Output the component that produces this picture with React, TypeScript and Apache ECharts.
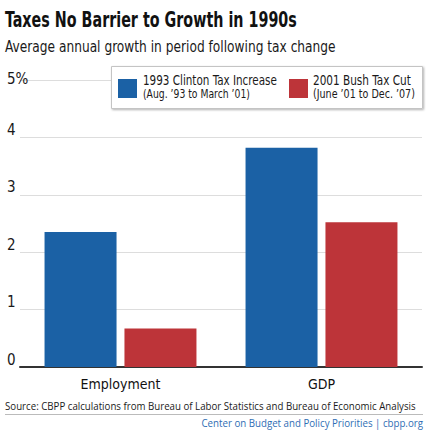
import React, { useEffect, useRef } from "react";
import * as echarts from "echarts";

const categories = ["Employment", "GDP"];
const clintonValues = [2.35, 3.82];
const bushValues = [0.67, 2.52];
const seriesNames = ["1993 Clinton Tax Increase", "2001 Bush Tax Cut"];
const seriesPeriods = ["(Aug. \u201993 to March \u201901)", "(June \u201901 to Dec. \u201907)"];
const seriesColors = ["#1b61a5", "#bd3439"];
const yTicks = [0, 1, 2, 3, 4, 5];
const titleText = "Taxes No Barrier to Growth in 1990s";
const subtitleText = "Average annual growth in period following tax change";
const sourceText = "Source: CBPP calculations from Bureau of Labor Statistics and Bureau of Economic Analysis";
const footerText = "Center on Budget and Policy Priorities | cbpp.org";

const COND = "'DejaVu Sans Condensed', 'Liberation Sans Narrow', 'Liberation Sans', sans-serif";
const REG = "'Open Sans', 'Noto Sans', sans-serif";

let measureCtx: CanvasRenderingContext2D | null = null;
function measure(text: string, size: number, family: string, weight = "normal") {
  if (!measureCtx) measureCtx = document.createElement("canvas").getContext("2d");
  if (!measureCtx) return text.length * size * 0.5;
  measureCtx.font = `${weight} ${size}px ${family}`;
  return measureCtx.measureText(text).width;
}

function fitText(
  text: string,
  x: number,
  y: number,
  width: number,
  size: number,
  family: string,
  color: string,
  weight = "normal",
  align: "left" | "right" = "left"
) {
  const w = measure(text, size, family, weight);
  return {
    type: "text",
    x,
    y,
    z: 20,
    scaleX: width / w,
    style: {
      text,
      x: 0,
      y: 0,
      fontSize: size,
      fontFamily: family,
      fontWeight: weight,
      fill: color,
      align,
      verticalAlign: "middle",
    },
  };
}

export default function App() {
  const ref = useRef<HTMLDivElement>(null);
  useEffect(() => {
    if (!ref.current) return;
    const chart = echarts.init(ref.current, undefined, { renderer: "svg" });
    const legendSquares = [118, 289];
    const legendTextX = [143, 313];
    const legendWidthsA = [134, 98];
    const legendWidthsB = [107, 102];
    const legendGraphics: any[] = [
      {
        type: "rect",
        z: 10,
        shape: { x: 111.5, y: 66.5, width: 311, height: 42 },
        style: {
          fill: "#fff",
          stroke: "#c4c4c4",
          lineWidth: 1,
          shadowColor: "rgba(0,0,0,0.3)",
          shadowBlur: 2,
          shadowOffsetX: 1,
          shadowOffsetY: 1,
        },
      },
    ];
    seriesNames.forEach((name, i) => {
      legendGraphics.push({
        type: "rect",
        z: 20,
        shape: { x: legendSquares[i], y: 79, width: 19, height: 19 },
        style: { fill: seriesColors[i] },
      });
      legendGraphics.push(fitText(name, legendTextX[i], 80, legendWidthsA[i], 14, COND, "#1a1a1a"));
      legendGraphics.push(fitText(seriesPeriods[i], legendTextX[i], 94.5, legendWidthsB[i], 11.5, COND, "#1a1a1a"));
    });

    chart.setOption({
      animation: false,
      backgroundColor: "#fff",
      graphic: [
        fitText(titleText, 5, 19, 292, 21.5, COND, "#111", "bold"),
        fitText(subtitleText, 5, 46, 331, 16, COND, "#1a1a1a"),
        fitText(sourceText, 5, 405.5, 411, 10, REG, "#1a1a1a"),
        {
          type: "line",
          shape: { x1: 5, y1: 414.5, x2: 423, y2: 414.5 },
          style: { stroke: "#bbb", lineWidth: 1 },
        },
        fitText(footerText, 423, 422.5, 222, 10, REG, "#2e6db4", "normal", "right"),
        ...legendGraphics,
      ],
      grid: { left: 20, right: 14, top: 80, bottom: 71 },
      xAxis: {
        type: "category",
        data: categories,
        axisTick: { show: false },
        axisLine: { lineStyle: { color: "#333", width: 2 } },
        axisLabel: { fontFamily: COND, fontSize: 14, color: "#111", margin: 10 },
      },
      yAxis: {
        type: "value",
        min: yTicks[0],
        max: yTicks[yTicks.length - 1],
        interval: 1,
        axisLine: { show: false },
        axisTick: { show: false },
        splitLine: { lineStyle: { color: "#ddd", width: 1 } },
        axisLabel: {
          fontFamily: COND,
          fontSize: 15,
          color: "#1a1a1a",
          align: "left",
          margin: 13,
          verticalAlign: "bottom",
          formatter: (v: number) => (v === 5 ? "{top|5%}" : String(v)),
          rich: {
            top: { fontFamily: COND, fontSize: 15, color: "#1a1a1a", padding: [0, 0, -6, 0] },
          },
        },
      },
      series: [
        {
          name: seriesNames[0],
          type: "bar",
          data: clintonValues,
          barWidth: 72,
          barGap: "11%",
          itemStyle: { color: seriesColors[0] },
        },
        {
          name: seriesNames[1],
          type: "bar",
          data: bushValues,
          barWidth: 72,
          itemStyle: { color: seriesColors[1] },
        },
      ],
    });
    return () => chart.dispose();
  }, []);
  return <div ref={ref} style={{ width: 436, height: 438, position: "absolute", left: 0, top: 0 }} />;
}
